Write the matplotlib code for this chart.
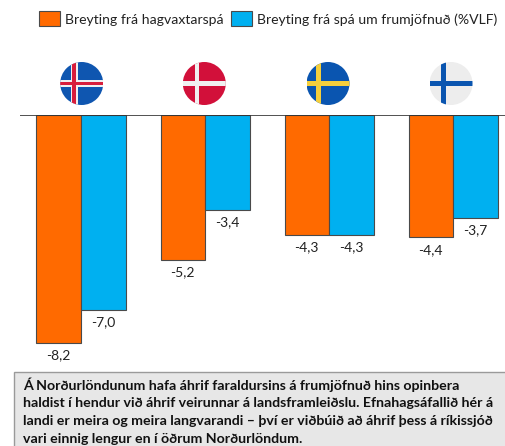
import matplotlib
matplotlib.use("Agg")
import matplotlib.pyplot as plt
from matplotlib.patches import Circle, Rectangle

W, H = 505, 446

countries = ["Ísland", "Danmörk", "Svíþjóð", "Finnland"]
growth = [-8.2, -5.2, -4.3, -4.4]
balance = [-7.0, -3.4, -4.3, -3.7]
legend_labels = ["Breyting frá hagvaxtarspá", "Breyting frá spá um frumjöfnuð (%VLF)"]
note_lines = [
    "Á Norðurlöndunum hafa áhrif faraldursins á frumjöfnuð hins opinbera",
    "haldist í hendur við áhrif veirunnar á landsframleiðslu. Efnahagsáfallið hér á",
    "landi er meira og meira langvarandi – því er viðbúið að áhrif þess á ríkissjóð",
    "vari einnig lengur en í öðrum Norðurlöndum.",
]

ORANGE = "#ff6a00"
BLUE = "#00b0f0"
EDGE = "#4a4a4a"
plt.rcParams["font.family"] = ["Lato", "DejaVu Sans"]


def fmt(v):
    return f"{v:.1f}".replace(".", ",")


def flag(ax, cx, cy, bg, cross, t, shift, inner=None):
    # round flag, cross shifted to the left
    r = 21.5
    clip = Circle((cx, cy), r, transform=ax.transData)
    parts = [Rectangle((cx - r, cy - r), 2 * r, 2 * r, fc=bg, ec="none")]
    parts.append(Rectangle((cx - r, cy - t / 2), 2 * r, t, fc=cross, ec="none"))
    parts.append(Rectangle((cx - shift - t / 2, cy - r), t, 2 * r, fc=cross, ec="none"))
    if inner:
        parts.append(Rectangle((cx - r, cy - 1.8), 2 * r, 3.6, fc=inner, ec="none"))
        parts.append(Rectangle((cx - shift - 1.8, cy - r), 3.6, 2 * r, fc=inner, ec="none"))
    for p in parts:
        ax.add_patch(p)
        p.set_clip_path(clip)


fig = plt.figure(figsize=(W / 100, H / 100), dpi=100)

# bars, zero line sits at y=115px and 1 unit is 27.8px
ax = fig.add_axes([20 / W, (H - 115 - 250) / H, 485 / W, 250 / H])
x = list(range(len(countries)))
bw = 0.359
ax.bar([i - bw / 2 for i in x], growth, bw, color=ORANGE, edgecolor=EDGE, linewidth=0.8)
ax.bar([i + bw / 2 for i in x], balance, bw, color=BLUE, edgecolor=EDGE, linewidth=0.8)
ax.set_xlim(-0.492, 3.419)
ax.set_ylim(-250 / 27.8, 0)
for i in x:
    ax.text(i - bw / 2, growth[i] - 0.24, fmt(growth[i]), ha="center", va="top", fontsize=10, color="#222222")
    ax.text(i + bw / 2, balance[i] - 0.24, fmt(balance[i]), ha="center", va="top", fontsize=10, color="#222222")
ax.axhline(0, color="#333333", lw=1.2, zorder=5)
ax.axis("off")

# pixel overlay for legend, flags, note
ov = fig.add_axes([0, 0, 1, 1], zorder=3)
ov.set_xlim(0, W)
ov.set_ylim(H, 0)
ov.axis("off")

ov.add_patch(Rectangle((39, 11), 21, 15, fc=ORANGE, ec=EDGE, lw=0.8))
ov.text(65, 19.5, legend_labels[0], va="center", fontsize=10.05, color="#222222")
ov.add_patch(Rectangle((231, 11), 21, 15, fc=BLUE, ec=EDGE, lw=0.8))
ov.text(257, 19.5, legend_labels[1], va="center", fontsize=10.05, color="#222222")

flag(ov, 81.7, 83.5, "#0f56b0", "#f0f0f0", 7, 7.5, "#d81e3c")
flag(ov, 204.3, 83.5, "#d2103a", "#f0f0f0", 4.5, 7.5)
flag(ov, 328, 83.5, "#0a55b0", "#f5cf3c", 5, 10)
flag(ov, 451, 83.5, "#ededed", "#0a55b0", 5.5, 7.5)

ov.add_patch(Rectangle((14, 372), 495, 80, fc="#e7e7e7", ec="#9a9a9a", lw=1))
for i, line in enumerate(note_lines):
    ov.text(23, 384.5 + i * 18.2, line, va="center", fontsize=10.2, fontweight="bold", color="#111111")

fig.savefig("out.png", dpi=100)
